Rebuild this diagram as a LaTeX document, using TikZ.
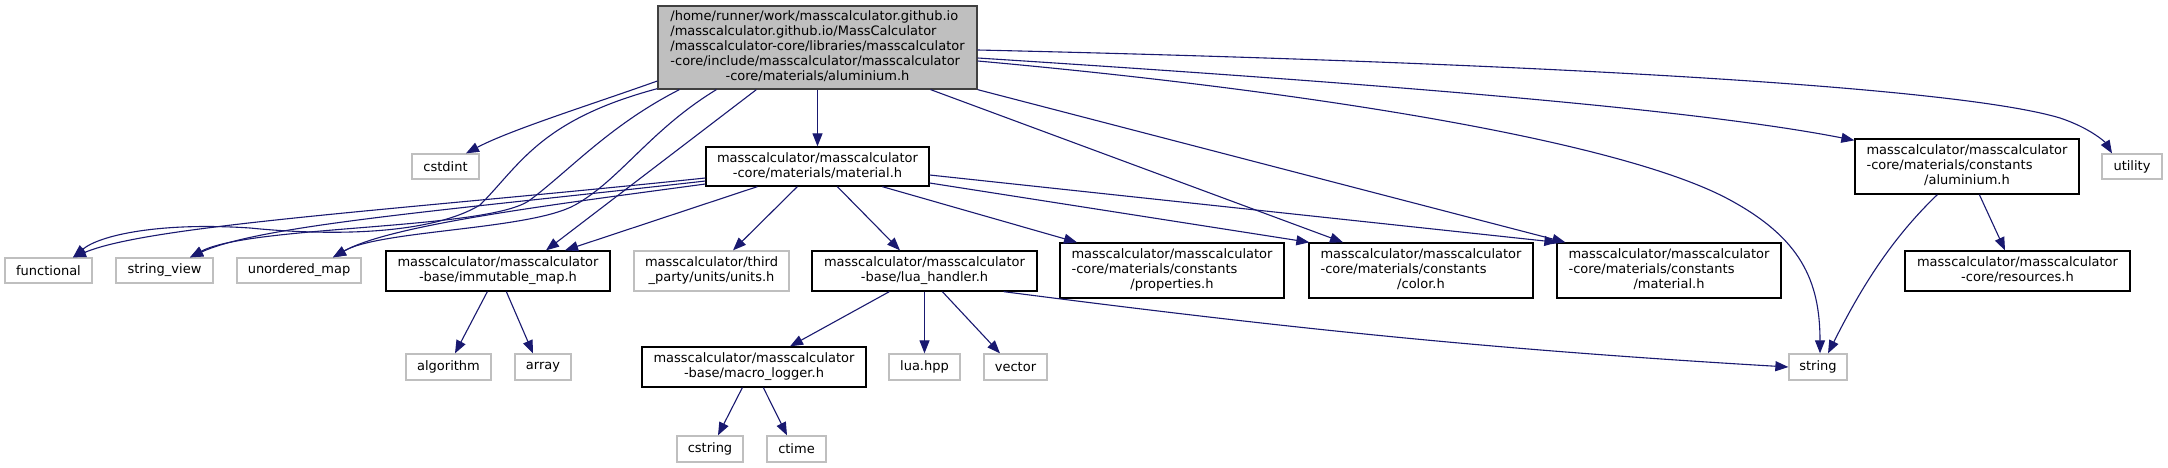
\documentclass[tikz,border=0pt]{standalone}
\usepackage{fontspec}
\setmainfont{DejaVu Sans}
\usetikzlibrary{arrows.meta}
\definecolor{edgec}{HTML}{191970}
\definecolor{grayb}{HTML}{BFBFBF}
\definecolor{rootf}{HTML}{BFBFBF}
\definecolor{rootd}{HTML}{404040}
\newcommand{\twol}[2]{\begin{tabular}{@{}l@{}}#1\\\multicolumn{1}{@{}c@{}}{#2}\end{tabular}}
\newcommand{\threel}[3]{\begin{tabular}{@{}l@{}}#1\\#2\\\multicolumn{1}{@{}c@{}}{#3}\end{tabular}}
\begin{document}
\begin{tikzpicture}[x=1pt,y=-1pt,font=\fontsize{13}{15}\selectfont,
  nd/.style={draw=black, fill=white, line width=1.3pt, inner sep=0pt},
  gnd/.style={draw=grayb, fill=white, line width=1.3pt, inner sep=0pt},
  wh/.style 2 args={minimum width=#1pt, minimum height=#2pt},
  edge/.style={draw=edgec, line width=1.1pt, -{Triangle[length=13pt,width=10pt]}}]
\useasboundingbox[fill=white] (0,0) rectangle (2168,468);
% rank 0
\node[draw=rootd, fill=rootf, line width=1.3pt, inner sep=0pt, wh={319}{83}] (root) at (817.5,47.5)
  {\begin{tabular}{@{}l@{}}/home/runner/work/masscalculator.github.io\\/masscalculator.github.io/MassCalculator\\/masscalculator-core/libraries/masscalculator\\-core/include/masscalculator/masscalculator\\\multicolumn{1}{@{}c@{}}{-core/materials/aluminium.h}\end{tabular}};
% rank 1
\node[gnd, wh={67}{25}] (cstdint) at (445.5,166.5) {cstdint};
\node[nd, wh={223}{39}] (mat) at (817.5,166.5) {\twol{masscalculator/masscalculator}{-core/materials/material.h}};
\node[nd, wh={224}{55}] (alum) at (1967,166.5) {\threel{masscalculator/masscalculator}{-core/materials/constants}{/aluminium.h}};
\node[gnd, wh={60}{25}] (utility) at (2132,166.5) {utility};
% rank 2
\node[gnd, wh={87}{25}] (functional) at (48.5,270.5) {functional};
\node[gnd, wh={97}{25}] (strview) at (164.5,270.5) {string\_view};
\node[gnd, wh={124}{25}] (umap) at (299,270.5) {unordered\_map};
\node[nd, wh={224}{40}] (imm) at (498,271) {\twol{masscalculator/masscalculator}{-base/immutable\_map.h}};
\node[gnd, wh={155}{40}] (units) at (711.5,271) {\twol{masscalculator/third}{\_party/units/units.h}};
\node[nd, wh={225}{40}] (lua) at (924.5,271) {\twol{masscalculator/masscalculator}{-base/lua\_handler.h}};
\node[nd, wh={224}{55}] (props) at (1172,270.5) {\threel{masscalculator/masscalculator}{-core/materials/constants}{/properties.h}};
\node[nd, wh={224}{55}] (color) at (1421,270.5) {\threel{masscalculator/masscalculator}{-core/materials/constants}{/color.h}};
\node[nd, wh={224}{55}] (cmat) at (1669,270.5) {\threel{masscalculator/masscalculator}{-core/materials/constants}{/material.h}};
\node[nd, wh={225}{40}] (res) at (2017.5,271) {\twol{masscalculator/masscalculator}{-core/resources.h}};
% rank 3
\node[gnd, wh={85}{26}] (algo) at (448.5,367) {algorithm};
\node[gnd, wh={56}{26}] (array) at (543,367) {array};
\node[nd, wh={224}{40}] (macro) at (754,367) {\twol{masscalculator/masscalculator}{-base/macro\_logger.h}};
\node[gnd, wh={71}{26}] (luahpp) at (924.5,367) {lua.hpp};
\node[gnd, wh={63}{26}] (vector) at (1015.5,367) {vector};
\node[gnd, wh={58}{26}] (string) at (1818,367) {string};
% rank 4
\node[gnd, wh={66}{26}] (cstring) at (710,449) {cstring};
\node[gnd, wh={59}{26}] (ctime) at (796.5,449) {ctime};

% edges from root
\draw[edge] ([yshift=-33.5pt]root.west) .. controls (590,105) and (510,130) .. ([xshift=20.5pt]cstdint.north);
\draw[edge] ([yshift=1pt]root.south west) .. controls (540,120) and (520,165) .. (480,205)
  .. controls (430,235) and (330,236) .. (250,228) .. controls (160,222) and (100,235) .. ([xshift=24.5pt]functional.north);
\draw[edge] ([xshift=22pt]root.south west) .. controls (610,125) and (570,170) .. (530,200)
  .. controls (490,230) and (250,225) .. ([xshift=25.5pt]strview.north);
\draw[edge] ([xshift=59pt]root.south west) .. controls (650,130) and (620,180) .. (575,205)
  .. controls (530,230) and (380,230) .. ([xshift=34pt]umap.north);
\draw[edge] ([xshift=99pt]root.south west) -- ([xshift=48pt]imm.north);
\draw[edge] (root.south) -- (mat.north);
\draw[edge] ([xshift=-47pt]root.south east) -- ([xshift=-78pt]color.north);
\draw[edge] (root.south east) -- ([xshift=9pt]cmat.north west);
\draw[edge] ([yshift=-13.5pt]root.east) .. controls (1300,90) and (1620,140) .. (1730,200)
  .. controls (1800,238) and (1820,280) .. ([xshift=2pt]string.north);
\draw[edge] ([yshift=-10.5pt]root.east) .. controls (1400,85) and (1700,110) .. ([yshift=-2pt]alum.north west);
\draw[edge] ([yshift=-2.5pt]root.east) .. controls (1500,62) and (1950,85) .. (2060,118)
  .. controls (2090,128) and (2105,142) .. ([xshift=-20pt]utility.north);

% edges from material.h
\draw[edge] ([yshift=-11.5pt]mat.west) .. controls (400,210) and (150,225) .. ([xshift=24.5pt]functional.north);
\draw[edge] ([yshift=-14.5pt]mat.west) .. controls (450,210) and (260,225) .. ([xshift=25.5pt]strview.north);
\draw[edge] ([yshift=-17.5pt]mat.west) .. controls (550,205) and (390,225) .. ([xshift=34pt]umap.north);
\draw[edge] ([xshift=52pt]mat.south west) -- ([xshift=67pt]imm.north);
\draw[edge] ([xshift=92pt]mat.south west) -- ([xshift=21.5pt]units.north);
\draw[edge] ([xshift=132pt]mat.south west) -- ([xshift=-24.5pt]lua.north);
\draw[edge] ([xshift=177pt]mat.south west) -- ([xshift=-95pt]props.north);
\draw[edge] ([yshift=-16.5pt]mat.east) -- ([xshift=1pt]color.north west);
\draw[edge] ([yshift=-8.5pt]mat.east) -- ([xshift=1pt]cmat.north west);

% immutable_map
\draw[edge] ([xshift=102pt]imm.south west) -- ([xshift=6.5pt]algo.north);
\draw[edge] ([xshift=121pt]imm.south west) -- ([xshift=-10pt]array.north);
% lua_handler
\draw[edge] ([xshift=78pt]lua.south west) -- ([xshift=36pt]macro.north);
\draw[edge] (lua.south) -- (luahpp.north);
\draw[edge] ([xshift=131pt]lua.south west) -- ([xshift=-15.5pt]vector.north);
\draw[edge] ([xshift=-34pt]lua.south east) .. controls (1300,330) and (1500,350) .. (string.west);
% macro_logger
\draw[edge] ([xshift=101pt]macro.south west) -- ([xshift=8pt]cstring.north);
\draw[edge] ([xshift=122pt]macro.south west) -- ([xshift=-9.5pt]ctime.north);
% constants/aluminium
\draw[edge] ([xshift=83pt]alum.south west) .. controls (1890,240) and (1860,290) .. ([xshift=10pt]string.north);
\draw[edge] ([xshift=125pt]alum.south west) -- ([xshift=-12.5pt]res.north);
\end{tikzpicture}
\end{document}
